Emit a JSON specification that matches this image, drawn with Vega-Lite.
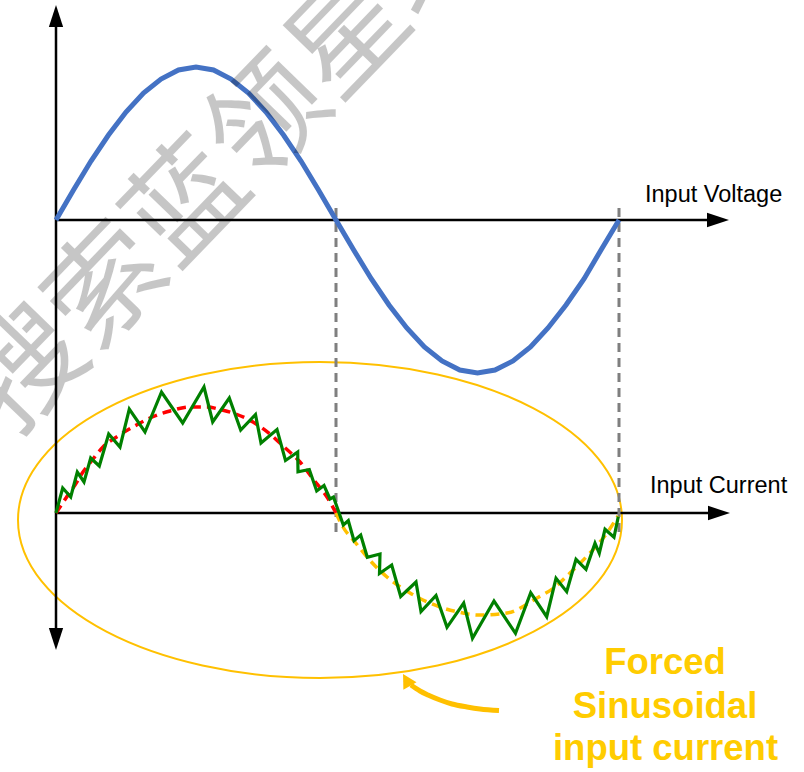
{
  "$schema": "https://vega.github.io/schema/vega-lite/v6.json",
  "width": 804,
  "height": 772,
  "autosize": {"type": "none"},
  "padding": 0,
  "background": "white",
  "config": {"view": {"stroke": null}},
  "encoding": {
    "x": {"field": "x", "type": "quantitative", "scale": {"domain": [0, 804], "nice": false, "zero": false}, "axis": null},
    "y": {"field": "y", "type": "quantitative", "scale": {"domain": [0, 772], "nice": false, "zero": false, "reverse": true}, "axis": null}
  },
  "layer": [
    {
      "data": {"values": [{"name": "ellipse", "x": 320, "y": 520}]},
      "mark": {"type": "point", "shape": "M-1,0 A1,0.523 0 1,1 1,0 A1,0.523 0 1,1 -1,0 Z", "filled": false, "stroke": "#FFC000", "strokeWidth": 2, "opacity": 1, "size": 364816}
    },
    {
      "data": {"values": [
        {"name": "vertical axis", "x": 56, "y": 22, "x2": 56, "y2": 633},
        {"name": "voltage axis", "x": 56, "y": 220, "x2": 710, "y2": 220},
        {"name": "current axis", "x": 56, "y": 513, "x2": 710, "y2": 513}
      ]},
      "mark": {"type": "rule", "color": "black", "strokeWidth": 2.5},
      "encoding": {"x2": {"field": "x2"}, "y2": {"field": "y2"}}
    },
    {
      "data": {"values": [
        {"name": "half period", "x": 336, "y": 208, "y2": 534},
        {"name": "full period", "x": 619, "y": 208, "y2": 532}
      ]},
      "mark": {"type": "rule", "color": "#7F7F7F", "strokeWidth": 3, "strokeDash": [9, 6]},
      "encoding": {"y2": {"field": "y2"}}
    },
    {
      "data": {"values": [
        {"x": 56, "y": 220}, {"x": 73.5, "y": 190}, {"x": 91, "y": 161}, {"x": 108.5, "y": 135},
        {"x": 126, "y": 112}, {"x": 143.5, "y": 93}, {"x": 161, "y": 79}, {"x": 178.5, "y": 70},
        {"x": 196, "y": 67}, {"x": 213.5, "y": 70}, {"x": 231, "y": 79}, {"x": 248.5, "y": 93},
        {"x": 266, "y": 112}, {"x": 283.5, "y": 135}, {"x": 301, "y": 161}, {"x": 318.5, "y": 190},
        {"x": 336, "y": 220}, {"x": 353.7, "y": 250}, {"x": 371.4, "y": 279}, {"x": 389, "y": 305},
        {"x": 406.8, "y": 328}, {"x": 424.4, "y": 347}, {"x": 442, "y": 361}, {"x": 459.8, "y": 370},
        {"x": 477.5, "y": 373}, {"x": 495, "y": 370}, {"x": 513, "y": 361}, {"x": 530.5, "y": 347},
        {"x": 548, "y": 328}, {"x": 566, "y": 305}, {"x": 584, "y": 279}, {"x": 601, "y": 250},
        {"x": 619, "y": 220}
      ]},
      "mark": {"type": "line", "color": "#4472C4", "strokeWidth": 5, "interpolate": "linear"}
    },
    {
      "data": {"values": [
        {"x": 56, "y": 513}, {"x": 66, "y": 498}, {"x": 75, "y": 485}, {"x": 83, "y": 472},
        {"x": 93, "y": 459}, {"x": 103, "y": 447}, {"x": 118, "y": 436}, {"x": 133, "y": 427},
        {"x": 150, "y": 418}, {"x": 170, "y": 411}, {"x": 190, "y": 407}, {"x": 207, "y": 407},
        {"x": 222, "y": 410}, {"x": 233, "y": 413}, {"x": 253, "y": 422}, {"x": 270, "y": 434},
        {"x": 283, "y": 446}, {"x": 300, "y": 462}, {"x": 313, "y": 479}, {"x": 327, "y": 497},
        {"x": 336, "y": 513}
      ]},
      "mark": {"type": "line", "color": "#FF0000", "strokeWidth": 3.5, "strokeDash": [9, 6], "interpolate": "monotone"}
    },
    {
      "data": {"values": [
        {"x": 336, "y": 513}, {"x": 343, "y": 527}, {"x": 355, "y": 542}, {"x": 367, "y": 557},
        {"x": 387, "y": 577}, {"x": 410, "y": 593}, {"x": 440, "y": 607}, {"x": 463, "y": 613},
        {"x": 478, "y": 615}, {"x": 507, "y": 613}, {"x": 537, "y": 598}, {"x": 555, "y": 587},
        {"x": 570, "y": 573}, {"x": 590, "y": 553}, {"x": 607, "y": 533}, {"x": 618, "y": 516}
      ]},
      "mark": {"type": "line", "color": "#FFC000", "strokeWidth": 3.5, "strokeDash": [9, 6], "interpolate": "monotone"}
    },
    {
      "data": {"values": [
        {"i": 1, "x": 56, "y": 513}, {"i": 2, "x": 62.7, "y": 488}, {"i": 3, "x": 70.7, "y": 497},
        {"i": 4, "x": 77.3, "y": 472}, {"i": 5, "x": 84, "y": 482}, {"i": 6, "x": 90.7, "y": 458},
        {"i": 7, "x": 99.3, "y": 466}, {"i": 8, "x": 108.7, "y": 434}, {"i": 9, "x": 120, "y": 447},
        {"i": 10, "x": 129.3, "y": 409}, {"i": 11, "x": 145, "y": 432}, {"i": 12, "x": 161.5, "y": 392},
        {"i": 13, "x": 182.7, "y": 423}, {"i": 14, "x": 204, "y": 387}, {"i": 15, "x": 212.7, "y": 422},
        {"i": 16, "x": 229.3, "y": 398}, {"i": 17, "x": 240.7, "y": 430}, {"i": 18, "x": 255.5, "y": 414.5},
        {"i": 19, "x": 261, "y": 443}, {"i": 20, "x": 277, "y": 429.5}, {"i": 21, "x": 285.5, "y": 460.5},
        {"i": 22, "x": 297.7, "y": 452}, {"i": 23, "x": 298, "y": 471.7}, {"i": 24, "x": 309.3, "y": 469.5},
        {"i": 25, "x": 316.7, "y": 491}, {"i": 26, "x": 324, "y": 485.5}, {"i": 27, "x": 330, "y": 499},
        {"i": 28, "x": 333.5, "y": 497}, {"i": 29, "x": 343.3, "y": 525}, {"i": 30, "x": 348.3, "y": 520.7},
        {"i": 31, "x": 354, "y": 540.7}, {"i": 32, "x": 360.7, "y": 535}, {"i": 33, "x": 367.3, "y": 557.3},
        {"i": 34, "x": 380, "y": 554}, {"i": 35, "x": 379.5, "y": 573.5}, {"i": 36, "x": 391.7, "y": 565},
        {"i": 37, "x": 400.7, "y": 596.5}, {"i": 38, "x": 416, "y": 582}, {"i": 39, "x": 421, "y": 611.5},
        {"i": 40, "x": 436, "y": 595.5}, {"i": 41, "x": 447, "y": 627.3}, {"i": 42, "x": 463.7, "y": 603},
        {"i": 43, "x": 472.5, "y": 638.3}, {"i": 44, "x": 494, "y": 601}, {"i": 45, "x": 515.5, "y": 633.3},
        {"i": 46, "x": 530.7, "y": 592.7}, {"i": 47, "x": 546.7, "y": 616.7}, {"i": 48, "x": 556, "y": 578.3},
        {"i": 49, "x": 566.7, "y": 591.7}, {"i": 50, "x": 576, "y": 559.3}, {"i": 51, "x": 586, "y": 569.3},
        {"i": 52, "x": 595, "y": 543.3}, {"i": 53, "x": 599.3, "y": 553.3}, {"i": 54, "x": 605, "y": 529.3},
        {"i": 55, "x": 614, "y": 537.3}, {"i": 56, "x": 618.3, "y": 516.7}
      ]},
      "mark": {"type": "line", "color": "#008000", "strokeWidth": 3.2, "interpolate": "linear", "strokeJoin": "miter"},
      "encoding": {"order": {"field": "i", "type": "quantitative"}}
    },
    {
      "data": {"values": [{"name": "up arrow", "x": 56, "y": 16}]},
      "mark": {"type": "point", "shape": "M0,-1 L-0.65,1 L0.65,1 Z", "filled": true, "color": "black", "opacity": 1, "size": 484, "angle": 0}
    },
    {
      "data": {"values": [{"name": "down arrow", "x": 56, "y": 639}]},
      "mark": {"type": "point", "shape": "M0,-1 L-0.65,1 L0.65,1 Z", "filled": true, "color": "black", "opacity": 1, "size": 484, "angle": 180}
    },
    {
      "data": {"values": [{"name": "voltage arrow", "x": 718, "y": 220}, {"name": "current arrow", "x": 719, "y": 513}]},
      "mark": {"type": "point", "shape": "M0,-1 L-0.65,1 L0.65,1 Z", "filled": true, "color": "black", "opacity": 1, "size": 484, "angle": 90}
    },
    {
      "data": {"values": [
        {"x": 499, "y": 710.5}, {"x": 480, "y": 709}, {"x": 467, "y": 707}, {"x": 452, "y": 704},
        {"x": 440, "y": 700}, {"x": 428, "y": 695}, {"x": 420, "y": 691}, {"x": 411, "y": 685}
      ]},
      "mark": {"type": "line", "color": "#FFC000", "strokeWidth": 5, "interpolate": "monotone"}
    },
    {
      "data": {"values": [{"name": "gold arrowhead", "x": 406.5, "y": 680}]},
      "mark": {"type": "point", "shape": "M0,-1 L-1.1,1 L1.1,1 Z", "filled": true, "color": "#FFC000", "opacity": 1, "size": 190, "angle": -30}
    },
    {
      "data": {"values": [
        {"label": "Input Voltage", "x": 645, "y": 201.5},
        {"label": "Input Current", "x": 650, "y": 492.5}
      ]},
      "mark": {"type": "text", "font": "Liberation Sans", "fontSize": 23.5, "color": "black", "align": "left", "baseline": "alphabetic"},
      "encoding": {"text": {"field": "label", "type": "nominal"}}
    },
    {
      "data": {"values": [
        {"label": "Forced", "x": 665, "y": 673.5},
        {"label": "Sinusoidal", "x": 665, "y": 718},
        {"label": "input current", "x": 665.5, "y": 759.5}
      ]},
      "mark": {"type": "text", "font": "Liberation Sans", "fontWeight": "bold", "fontSize": 36.5, "color": "#FFCC00", "align": "center", "baseline": "alphabetic"},
      "encoding": {"text": {"field": "label", "type": "nominal"}}
    },
    {
      "data": {"values": [{"label": "搜索蓝领星球", "x": 230, "y": 163}]},
      "mark": {"type": "text", "font": "Noto Sans CJK SC", "fontSize": 116, "color": "black", "opacity": 0.22, "angle": -46, "align": "center", "baseline": "middle"},
      "encoding": {"text": {"field": "label", "type": "nominal"}}
    }
  ]
}
